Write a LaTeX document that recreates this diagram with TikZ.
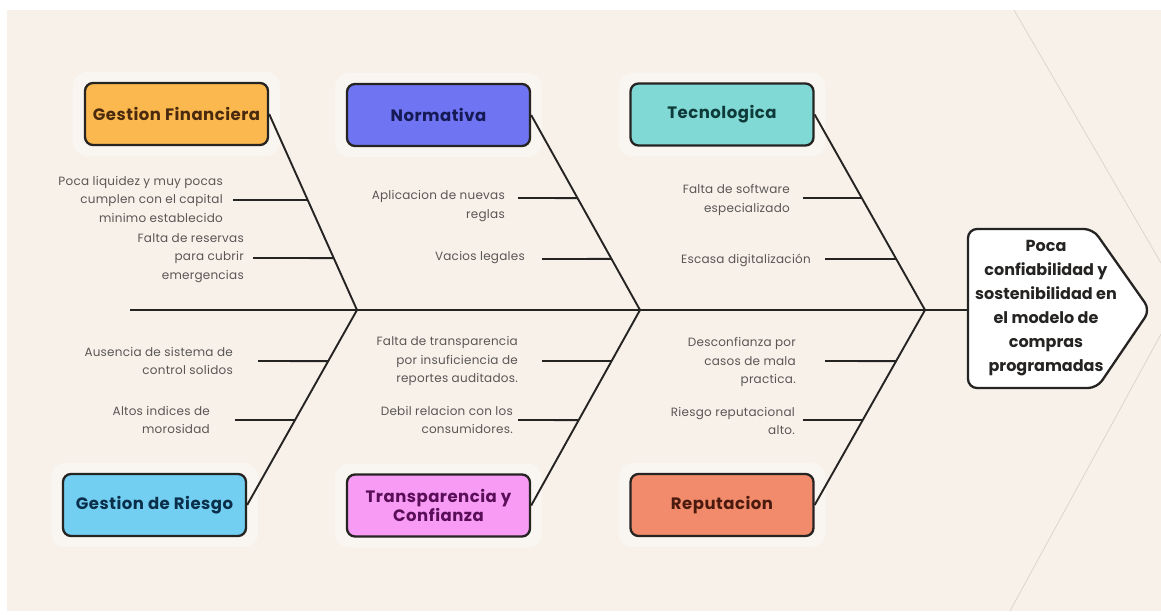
\documentclass[tikz,border=0pt]{standalone}
\usepackage{fontspec}
\setmainfont{Poppins}
\newfontfamily\boxfont[LetterSpace=3]{Poppins}
\newfontfamily\lblfont[LetterSpace=2]{Poppins}
\definecolor{bgc}{HTML}{F7F1EA}
\definecolor{halo}{HTML}{F9F5F0}
\definecolor{edge}{HTML}{262422}
\definecolor{lblc}{HTML}{5A5654}
\definecolor{faint}{HTML}{DCD6CF}
\definecolor{gfF}{HTML}{FBB84E}\definecolor{gfT}{HTML}{4A2A0E}
\definecolor{nF}{HTML}{6E74F2}\definecolor{nT}{HTML}{151A55}
\definecolor{tF}{HTML}{80D9D5}\definecolor{tT}{HTML}{0E3A3A}
\definecolor{grF}{HTML}{72CFF2}\definecolor{grT}{HTML}{0B2E4A}
\definecolor{tcF}{HTML}{F79BF4}\definecolor{tcT}{HTML}{5A0E58}
\definecolor{rF}{HTML}{F28B6B}\definecolor{rT}{HTML}{4A1A0E}
\begin{document}
\begin{tikzpicture}[x=1pt,y=-1pt,
  catbox/.style={draw=edge, line width=2.3pt, rounded corners=8pt, minimum width=183pt, minimum height=62pt, align=center, font=\boxfont\fontsize{16.5}{19}\selectfont\bfseries, inner sep=0pt},
  halobox/.style={fill=halo, rounded corners=14pt, minimum width=207pt, minimum height=84pt, inner sep=0pt},
  bone/.style={draw=edge, line width=1.9pt},
  subline/.style={draw=edge, line width=1.9pt},
  lbl/.style={anchor=east, align=right, text=lblc, font=\lblfont\fontsize{12}{18.5}\selectfont, inner sep=0pt}]
\useasboundingbox (0,0) rectangle (1161,614);
\fill[white] (0,0) rectangle (1161,614);
\fill[bgc] (7,10) rectangle (1161,611);
% faint background lines
\draw[faint, line width=0.8pt] (1014,10) -- (1161,263);
\draw[faint, line width=0.8pt] (1161,334) -- (1010,611);

% halos
\foreach \p in {(176.5,114),(438.5,115),(722,114.5),(154.5,505),(438.5,505.5),(722,505)}
  \node[halobox] at \p {};

% category boxes
\node[catbox, fill=gfF, text=gfT] (gf) at (176.5,114) {Gestion Financiera};
\node[catbox, fill=nF, text=nT] (nor) at (438.5,115) {Normativa};
\node[catbox, fill=tF, text=tT] (tec) at (722,114.5) {Tecnologica};
\node[catbox, fill=grF, text=grT] (gr) at (154.5,505) {Gestion de Riesgo};
\node[catbox, fill=tcF, text=tcT] (tc) at (438.5,505.5) {Transparencia y\\Confianza};
\node[catbox, fill=rF, text=rT] (rep) at (722,505) {Reputacion};

% head
\draw[edge, fill=white, line width=2.3pt, rounded corners=9pt]
  (968,229) -- (1093,229) -- (1150,310) -- (1097,388) -- (968,388) -- cycle;
\node[align=center, font=\fontsize{16}{24}\selectfont\bfseries, text=edge, inner sep=0pt] (head) at (1046,308)
  {Poca\\confiabilidad y\\sostenibilidad en\\el modelo de\\compras\\programadas};

% spine
\coordinate (tail) at (130,310);
\coordinate (headL) at (968,310);
\coordinate (j1) at (357,310);
\coordinate (j2) at (640,310);
\coordinate (j3) at (925,310);
\draw[bone] (tail) -- (headL);

% bones
\draw[bone] (gf.east) -- (j1) coordinate[pos=0.439] (a1) coordinate[pos=0.735] (a2);
\draw[bone] (nor.east) -- (j2) coordinate[pos=0.426] (b1) coordinate[pos=0.738] (b2);
\draw[bone] (tec.east) -- (j3) coordinate[pos=0.427] (c1) coordinate[pos=0.739] (c2);
\draw[bone] (j1) -- (gr.east) coordinate[pos=0.262] (d1) coordinate[pos=0.564] (d2);
\draw[bone] (j2) -- (tc.east) coordinate[pos=0.261] (e1) coordinate[pos=0.563] (e2);
\draw[bone] (j3) -- (rep.east) coordinate[pos=0.262] (f1) coordinate[pos=0.564] (f2);

% labels and sub-branches
\node[lbl] (la1) at (223,199) {Poca liquidez y muy pocas\\cumplen con el capital\\minimo establecido};
\coordinate (sa1) at (233,200);
\draw[subline] (sa1) -- (a1);
\node[lbl] (la2) at (244,258) {Falta de reservas\\para cubrir\\emergencias};
\coordinate (sa2) at (253,258);
\draw[subline] (sa2) -- (a2);

\node[lbl] (lb1) at (505,206) {Aplicacion de nuevas\\reglas};
\coordinate (sb1) at (518,198);
\draw[subline] (sb1) -- (b1);
\node[lbl] (lb2) at (525,258) {Vacios legales};
\coordinate (sb2) at (542,259);
\draw[subline] (sb2) -- (b2);

\node[lbl] (lc1) at (790,200) {Falta de software\\especializado};
\coordinate (sc1) at (803,198);
\draw[subline] (sc1) -- (c1);
\node[lbl] (lc2) at (811,260) {Escasa digitalización};
\coordinate (sc2) at (825,259);
\draw[subline] (sc2) -- (c2);

\node[lbl] (ld1) at (233,361) {Ausencia de sistema de\\control solidos};
\coordinate (sd1) at (258,361);
\draw[subline] (sd1) -- (d1);
\node[lbl] (ld2) at (210,420) {Altos indices de\\morosidad};
\coordinate (sd2) at (235,420);
\draw[subline] (sd2) -- (d2);

\node[lbl] (le1) at (518,361) {Falta de transparencia\\por insuficiencia de\\reportes auditados.};
\coordinate (se1) at (542,361);
\draw[subline] (se1) -- (e1);
\node[lbl] (le2) at (513,420) {Debil relacion con los\\consumidores.};
\coordinate (se2) at (518,420);
\draw[subline] (se2) -- (e2);

\node[lbl] (lf1) at (796,362) {Desconfianza por\\casos de mala\\practica.};
\coordinate (sf1) at (825,361);
\draw[subline] (sf1) -- (f1);
\node[lbl] (lf2) at (795,421) {Riesgo reputacional\\alto.};
\coordinate (sf2) at (803,420);
\draw[subline] (sf2) -- (f2);
\end{tikzpicture}
\end{document}
